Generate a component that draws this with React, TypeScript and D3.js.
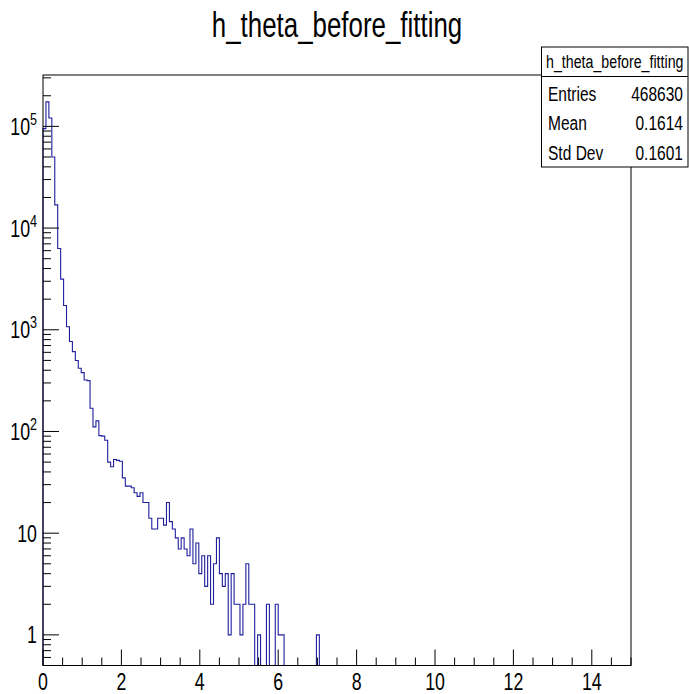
import React from "react";
import * as d3 from "d3";

// Histogram definition: 200 bins from 0 to 15 (bin width 0.075); bins past the list are empty
const histTitle = "h_theta_before_fitting";
const xMin = 0;
const xMax = 15;
const nBins = 200;
const binCounts = [
  95000, 174000, 121000, 50000, 16900, 6300, 3150, 1730, 1070, 766,
  610, 498, 419, 379, 321, 316, 169, 111, 127, 91,
  90, 82, 50, 45, 53, 52, 51, 35, 29, 29,
  28, 25, 23, 25, 20, 20, 14, 11, 11, 14,
  14, 12, 20, 13, 11, 9, 7, 9, 7, 6,
  11, 5, 8, 4, 6, 3, 6, 2, 5, 9,
  4, 3, 4, 1, 4, 2, 2, 1, 2, 5,
  2, 2, 0, 1, 0, 0, 2, 0, 0, 2,
  1, 1, 0, 0, 0, 0, 0, 0, 0, 0,
  0, 0, 0, 1,
];
const xTickLabels = [0, 2, 4, 6, 8, 10, 12, 14];
const xMinorStep = 0.5;
const yDecades = [0, 1, 2, 3, 4, 5];
const yDomain = [0.5, 3.2e5];
const statLabels = ["Entries", "Mean", "Std Dev"];
const statValues = ["468630", "0.1614", "0.1601"];

const W = 689;
const H = 694;
const frame = { left: 43, right: 631, top: 75, bottom: 665.5 };
const SX = 0.74;
const FONT = "'Liberation Sans', Arial, Helvetica, sans-serif";
const LINE = "#1f1f9e";

export default function App() {
  const x = d3.scaleLinear().domain([xMin, xMax]).range([frame.left, frame.right]);
  const y = d3.scaleLog().domain(yDomain).range([frame.bottom, frame.top]);
  const bw = (xMax - xMin) / nBins;

  // Histogram outline path
  let d = `M${x(xMin)},${y(yDomain[0])}`;
  binCounts.forEach((c, i) => {
    const yy = c > 0 ? y(c) : y(yDomain[0]);
    d += `V${yy}H${x(xMin + (i + 1) * bw)}`;
  });
  d += `V${y(yDomain[0])}H${x(xMax)}`;

  // Y ticks
  const yMajor: number[] = yDecades.map((k) => Math.pow(10, k));
  const yMinor: number[] = [];
  for (let k = -1; k <= 5; k++) {
    for (let m = 2; m <= 9; m++) {
      const v = m * Math.pow(10, k);
      if (v > yDomain[0] && v < yDomain[1]) yMinor.push(v);
    }
  }
  // X ticks
  const xMinor: number[] = d3.range(xMin, xMax + 1e-9, xMinorStep).filter(
    (v) => !xTickLabels.includes(v)
  );

  const majorLen = 16;
  const minorLen = 8;

  const txt = (
    key: string,
    tx: number,
    ty: number,
    size: number,
    anchor: string,
    content: React.ReactNode
  ) => (
    <text
      key={key}
      transform={`translate(${tx},${ty}) scale(${SX},1)`}
      fontSize={size}
      fontFamily={FONT}
      textAnchor={anchor as any}
      fill="#000"
    >
      {content}
    </text>
  );

  return (
    <svg
      width={W}
      height={H}
      style={{ position: "absolute", left: 0, top: 0, background: "#fff" }}
    >
      <rect x={0} y={0} width={W} height={H} fill="#fff" />
      {/* histogram */}
      <path d={d} fill="none" stroke={LINE} strokeWidth={1.1} />
      {/* frame */}
      <rect
        x={frame.left}
        y={frame.top}
        width={frame.right - frame.left}
        height={frame.bottom - frame.top}
        fill="none"
        stroke="#000"
        strokeWidth={1}
      />
      {/* y ticks */}
      {yMajor.map((v) => (
        <line key={`ym${v}`} x1={frame.left} x2={frame.left + majorLen} y1={y(v)} y2={y(v)} stroke="#000" />
      ))}
      {yMinor.map((v) => (
        <line key={`yn${v}`} x1={frame.left} x2={frame.left + minorLen} y1={y(v)} y2={y(v)} stroke="#000" />
      ))}
      {/* x ticks */}
      {xTickLabels.map((v) => (
        <line key={`xm${v}`} x1={x(v)} x2={x(v)} y1={frame.bottom} y2={frame.bottom - majorLen} stroke="#000" />
      ))}
      {xMinor.map((v) => (
        <line key={`xn${v}`} x1={x(v)} x2={x(v)} y1={frame.bottom} y2={frame.bottom - minorLen} stroke="#000" />
      ))}
      {/* y labels */}
      {yDecades.map((k) =>
        txt(
          `yl${k}`,
          37,
          y(Math.pow(10, k)) + 8.5,
          24,
          "end",
          k === 0 ? (
            "1"
          ) : k === 1 ? (
            "10"
          ) : (
            <>
              <tspan>10</tspan>
              <tspan dy={-10} fontSize={17}>
                {k}
              </tspan>
            </>
          )
        )
      )}
      {/* x labels */}
      {xTickLabels.map((v) => txt(`xl${v}`, x(v), 690, 24, "middle", String(v)))}
      {/* title */}
      {txt("title", 337, 37, 35, "middle", histTitle)}
      {/* stats box */}
      <rect x={541.5} y={47} width={146.5} height={120} fill="#fff" stroke="#000" />
      <line x1={541.5} x2={688} y1={76.5} y2={76.5} stroke="#000" />
      {txt("sh", 614.75, 68, 19.2, "middle", histTitle)}
      {statLabels.map((l, i) => txt(`sl${i}`, 548, 100.5 + i * 29.5, 21, "start", l))}
      {statValues.map((v, i) => txt(`sv${i}`, 683, 100.5 + i * 29.5, 21, "end", v))}
    </svg>
  );
}
